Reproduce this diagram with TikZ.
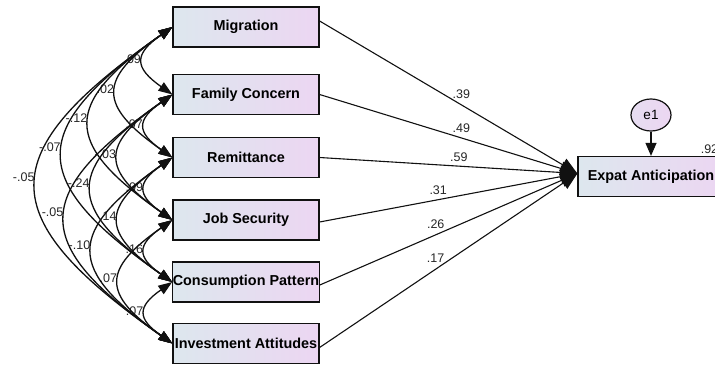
\documentclass[tikz,border=0pt]{standalone}
\usepackage{fontspec}
\setmainfont{Liberation Sans}
\usetikzlibrary{arrows.meta,shapes.geometric}
\definecolor{boxleft}{HTML}{DDE7EE}
\definecolor{boxright}{HTML}{ECD6F2}
\definecolor{inkline}{HTML}{111111}
\begin{document}
\begin{tikzpicture}[x=1pt,y=1pt,
  var/.style={draw=inkline, line width=1.2pt, left color=boxleft, right color=boxright,
    minimum width=146pt, minimum height=40pt, inner sep=0pt,
    font=\bfseries\fontsize{14.4}{16}\selectfont},
  errvar/.style={ellipse, draw=inkline, line width=1.2pt, left color=boxleft!40!boxright,
    right color=boxright, minimum width=40pt, minimum height=32pt, inner sep=0pt,
    font=\fontsize{13.5}{15}\selectfont},
  path/.style={line width=1.1pt, draw=inkline, -{Triangle[length=17pt,width=14pt]}},
  cov/.style={line width=1.3pt, draw=inkline,
    {Triangle[length=14pt,width=10pt]}-{Triangle[length=14pt,width=10pt]}},
  est/.style={font=\fontsize{12.5}{14}\selectfont, text=black!85, inner sep=1pt},
]
\clip (0,0) rectangle (715,365);

% observed predictors
\node[var] (v1) at (246,338)   {Migration};
\node[var] (v2) at (246,270.5) {Family Concern};
\node[var] (v3) at (246,207.5) {Remittance};
\node[var] (v4) at (246,145)   {Job Security};
\node[var] (v5) at (246,83)    {Consumption Pattern};
\node[var] (v6) at (246,21.5)  {Investment Attitudes};

% outcome and its error term
\node[var] (y) at (651,188.5) {Expat Anticipation};
\coordinate (yin) at ([yshift=3pt]y.west);
\node[errvar] (e1) at (651,250) {e1};
\draw[path, -{Triangle[length=13pt,width=11pt]}] (e1) -- (y);
\node[est, anchor=south west] (r2) at ([xshift=-25pt,yshift=1pt]y.north east) {.92};

% regression weights
\draw[path] ([yshift=6pt]v1.east) -- node[est, pos=0.55, above=5pt] {.39} (yin);
\draw[path] (v2.east) -- node[est, pos=0.55, above=4pt] {.49} (yin);
\draw[path] (v3.east) -- node[est, pos=0.54, above=3pt] {.59} (yin);
\draw[path] ([yshift=-2pt]v4.east) -- node[est, pos=0.46, above=4pt] {.31} (yin);
\draw[path] ([yshift=-3pt]v5.east) -- node[est, pos=0.45, above=5pt] {.26} (yin);
\draw[path] ([yshift=-4pt]v6.east) -- node[est, pos=0.45, above=5pt] {.17} (yin);

% correlations among predictors
\foreach \a/\b/\r in {1/2/.09, 2/3/.07, 3/4/.09, 4/5/.16, 5/6/.07,
                      1/3/.02, 2/4/-.03, 3/5/.14, 4/6/.07,
                      1/4/-.12, 2/5/-.24, 3/6/-.10,
                      1/5/-.07, 2/6/-.05,
                      1/6/-.05}
  \draw[cov] (v\a.west) to[out=215, in=145, looseness=1.79]
    node[est, pos=0.47, anchor=east, xshift=-1pt] {\r} (v\b.west);
\end{tikzpicture}
\end{document}
